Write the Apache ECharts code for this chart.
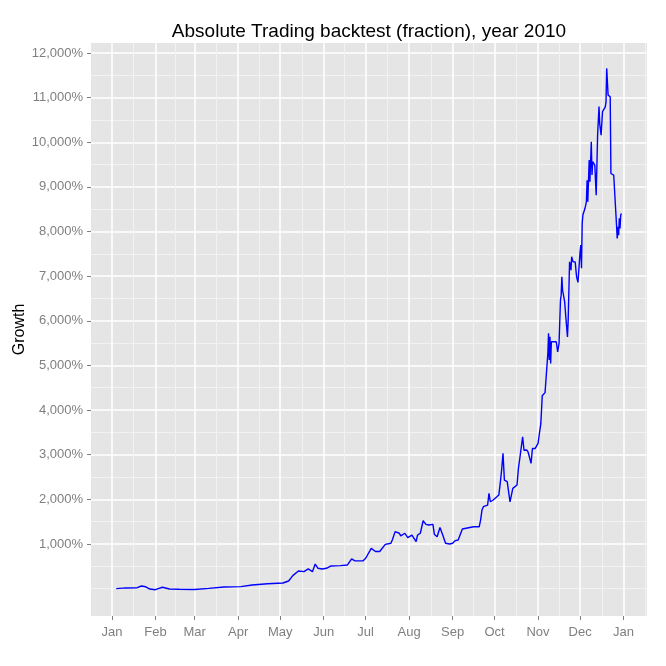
<!DOCTYPE html>
<html>
<head>
<meta charset="utf-8">
<script src="https://cdn.jsdelivr.net/npm/echarts@6/dist/echarts.min.js"></script>
<style>
  html, body { margin: 0; padding: 0; background: #fff; }
  #main { width: 666px; height: 666px; }
</style>
</head>
<body>
<div id="main"></div>
<script>
// trading days and growth in %
const dates = [
  '2010-01-04', '2010-01-11', '2010-01-19', '2010-01-22', '2010-01-25', '2010-01-28',
  '2010-02-01', '2010-02-03', '2010-02-06', '2010-02-11', '2010-02-18',
  '2010-03-01', '2010-03-11', '2010-03-22',
  '2010-04-03', '2010-04-11', '2010-04-22',
  '2010-05-03', '2010-05-07', '2010-05-10', '2010-05-14', '2010-05-18', '2010-05-21',
  '2010-05-24', '2010-05-26', '2010-05-28', '2010-05-31',
  '2010-06-03', '2010-06-06', '2010-06-13', '2010-06-18', '2010-06-21', '2010-06-23', '2010-06-29',
  '2010-07-01', '2010-07-05', '2010-07-08', '2010-07-11', '2010-07-12', '2010-07-15',
  '2010-07-19', '2010-07-20', '2010-07-22', '2010-07-25', '2010-07-26', '2010-07-29', '2010-07-31',
  '2010-08-03', '2010-08-06', '2010-08-07', '2010-08-09', '2010-08-11', '2010-08-13',
  '2010-08-15', '2010-08-18', '2010-08-19', '2010-08-21', '2010-08-23', '2010-08-25',
  '2010-08-27', '2010-08-30',
  '2010-09-01', '2010-09-03', '2010-09-05', '2010-09-08', '2010-09-16', '2010-09-20',
  '2010-09-21', '2010-09-22', '2010-09-23', '2010-09-26', '2010-09-27', '2010-09-28', '2010-09-30',
  '2010-10-04', '2010-10-05', '2010-10-06', '2010-10-07', '2010-10-08', '2010-10-10',
  '2010-10-12', '2010-10-14', '2010-10-17', '2010-10-18', '2010-10-19', '2010-10-21',
  '2010-10-22', '2010-10-24', '2010-10-25', '2010-10-27', '2010-10-28', '2010-10-30', '2010-10-31',
  '2010-11-01', '2010-11-02', '2010-11-03', '2010-11-04', '2010-11-06', '2010-11-07',
  '2010-11-08 00:00', '2010-11-08 12:00', '2010-11-09 00:00', '2010-11-09 12:00',
  '2010-11-10 00:00', '2010-11-10 12:00', '2010-11-12', '2010-11-14', '2010-11-15', '2010-11-16',
  '2010-11-17 00:00', '2010-11-17 12:00', '2010-11-18 00:00', '2010-11-18 12:00',
  '2010-11-20', '2010-11-21', '2010-11-22 00:00', '2010-11-22 12:00', '2010-11-23 12:00',
  '2010-11-24 12:00', '2010-11-25', '2010-11-26', '2010-11-27 12:00', '2010-11-28 12:00',
  '2010-11-29 12:00', '2010-11-30 12:00',
  '2010-12-01 00:00', '2010-12-01 12:00', '2010-12-02 00:00', '2010-12-02 12:00', '2010-12-03',
  '2010-12-04 12:00', '2010-12-05 12:00', '2010-12-06 00:00', '2010-12-06 12:00',
  '2010-12-07 12:00', '2010-12-08', '2010-12-09 00:00', '2010-12-09 12:00', '2010-12-10',
  '2010-12-11 12:00', '2010-12-12 00:00', '2010-12-12 12:00', '2010-12-13 12:00',
  '2010-12-14 12:00', '2010-12-15', '2010-12-16', '2010-12-17', '2010-12-18',
  '2010-12-19 00:00', '2010-12-19 12:00', '2010-12-20', '2010-12-21 00:00', '2010-12-21 12:00',
  '2010-12-22 12:00', '2010-12-23', '2010-12-25', '2010-12-26',
  '2010-12-27 00:00', '2010-12-27 12:00', '2010-12-28 00:00', '2010-12-28 12:00',
  '2010-12-29 00:00', '2010-12-29 12:00', '2010-12-30 00:00', '2010-12-30 12:00'
];
const growth = [
  0, 15, 20, 58, 40, -10,
  -25, 0, 30, -10, -15,
  -20, 5, 35,
  45, 80, 110,
  125, 170, 290, 395, 380, 440,
  380, 550, 455, 440,
  455, 505, 515, 530, 665, 625, 620,
  680, 900, 830, 830, 805, 990,
  1015, 1090, 1275, 1240, 1180, 1240, 1140,
  1200, 1050, 1200, 1240, 1520, 1440,
  1425, 1440, 1220, 1160, 1370, 1200,
  1015, 1000,
  1015, 1075, 1090, 1335, 1385, 1385,
  1535, 1760, 1835, 1870, 2135, 1945, 1985,
  2095, 2350, 2655, 3030, 2430, 2395,
  1945, 2245, 2320, 2695, 2920, 3400,
  3100, 3105, 3050, 2805, 3140, 3140, 3180,
  3255, 3480, 3700, 4320, 4390, 4375,
  5270, 5720, 5120, 5640,
  5045, 5530, 5530, 5530, 5305, 5495,
  6465, 6575, 6985, 6690,
  6425, 6015, 5640, 6015, 7320,
  7135, 7435, 7320, 7320, 6985,
  6860, 6860,
  7550, 7695, 7175, 8180, 8370,
  8520, 8665, 9150, 8665,
  9600, 9115, 10010, 9265, 9565,
  9490, 9450, 8815, 10160,
  10800, 10420, 10160, 10685, 10720,
  10795, 10905, 11655, 11055, 11095,
  11020, 9300, 9265, 9225,
  8145, 7845, 8105, 7920,
  8295, 8070, 8370, 8405
];

const monthBreaks = ['2010-01-01', '2010-02-01', '2010-03-01', '2010-04-01', '2010-05-01', '2010-06-01',
  '2010-07-01', '2010-08-01', '2010-09-01', '2010-10-01', '2010-11-01', '2010-12-01', '2011-01-01'];
const monthNames = ['Jan', 'Feb', 'Mar', 'Apr', 'May', 'Jun', 'Jul', 'Aug', 'Sep', 'Oct', 'Nov', 'Dec'];
const yBreaks = [1000, 2000, 3000, 4000, 5000, 6000, 7000, 8000, 9000, 10000, 11000, 12000];
const yMinor = [0, 500, 1500, 2500, 3500, 4500, 5500, 6500, 7500, 8500, 9500, 10500, 11500];

const xMin = '2009-12-17';
const xMax = '2011-01-17 18:00';
const yMin = -614;
const yMax = 12224;

// local-time parse of 'YYYY-MM-DD[ HH:mm]'
function toTime(s) {
  const p = s.split(/[- :]/).map(Number);
  return new Date(p[0], p[1] - 1, p[2], p[3] || 0, p[4] || 0).getTime();
}

const majorX = monthBreaks.map(toTime);
const minorX = [];
for (let i = 0; i < majorX.length - 1; i++) {
  minorX.push((majorX[i] + majorX[i + 1]) / 2);
}
// one more half-month after the last break
minorX.push(majorX[majorX.length - 1] + (majorX[1] - majorX[0]) / 2);

const seriesData = dates.map((d, i) => [toTime(d), growth[i]]);

function pct(v) {
  return String(v).replace(/\B(?=(\d{3})+(?!\d))/g, ',') + '%';
}

const font = 'Liberation Sans';
const grey = '#7f7f7f';

let myChart = echarts.init(document.getElementById('main'), null, { renderer: 'canvas' });
myChart.setOption({
  animation: false,
  backgroundColor: '#ffffff',
  title: {
    text: 'Absolute Trading backtest (fraction), year 2010',
    left: 369,
    top: 22,
    padding: 0,
    textAlign: 'center',
    textStyle: { fontFamily: font, fontSize: 19, fontWeight: 'normal', color: '#000' }
  },
  grid: {
    left: 91, right: 19, top: 43, bottom: 50,
    show: true, backgroundColor: '#e5e5e5', borderWidth: 0
  },
  xAxis: [
    {
      type: 'value',
      min: toTime(xMin), max: toTime(xMax),
      axisLine: { show: false, onZero: false },
      axisTick: { show: true, length: 4, customValues: majorX, lineStyle: { color: grey, width: 1 } },
      axisLabel: {
        customValues: majorX,
        margin: 10,
        color: grey, fontFamily: font, fontSize: 13,
        formatter: v => monthNames[new Date(v).getMonth()]
      },
      splitLine: { show: true, lineStyle: { color: '#ffffff', width: 1.5 } }
    },
    {
      type: 'value',
      position: 'top',
      min: toTime(xMin), max: toTime(xMax),
      axisLine: { show: false, onZero: false },
      axisTick: { show: false, customValues: minorX },
      axisLabel: { show: false, customValues: minorX },
      splitLine: { show: true, lineStyle: { color: '#f2f2f2', width: 1 } }
    }
  ],
  yAxis: [
    {
      type: 'value',
      min: yMin, max: yMax,
      name: 'Growth',
      nameLocation: 'middle',
      nameGap: 63,
      nameMoveOverlap: false,
      nameRotate: 90,
      nameTextStyle: { fontFamily: font, fontSize: 16, color: '#000' },
      axisLine: { show: false, onZero: false },
      axisTick: { show: true, length: 4, customValues: yBreaks, lineStyle: { color: grey, width: 1 } },
      axisLabel: {
        customValues: yBreaks,
        margin: 8,
        color: grey, fontFamily: font, fontSize: 13,
        formatter: v => pct(v)
      },
      splitLine: { show: true, lineStyle: { color: '#ffffff', width: 1.5 } }
    },
    {
      type: 'value',
      position: 'right',
      min: yMin, max: yMax,
      axisLine: { show: false, onZero: false },
      axisTick: { show: false, customValues: yMinor },
      axisLabel: { show: false, customValues: yMinor },
      splitLine: { show: true, lineStyle: { color: '#f2f2f2', width: 1 } }
    }
  ],
  series: [
    {
      name: 'Growth',
      type: 'line',
      xAxisIndex: 0,
      yAxisIndex: 0,
      data: seriesData,
      showSymbol: false,
      symbol: 'none',
      lineStyle: { color: '#0000ff', width: 1.4 },
      z: 5
    }
  ]
});
</script>
</body>
</html>
